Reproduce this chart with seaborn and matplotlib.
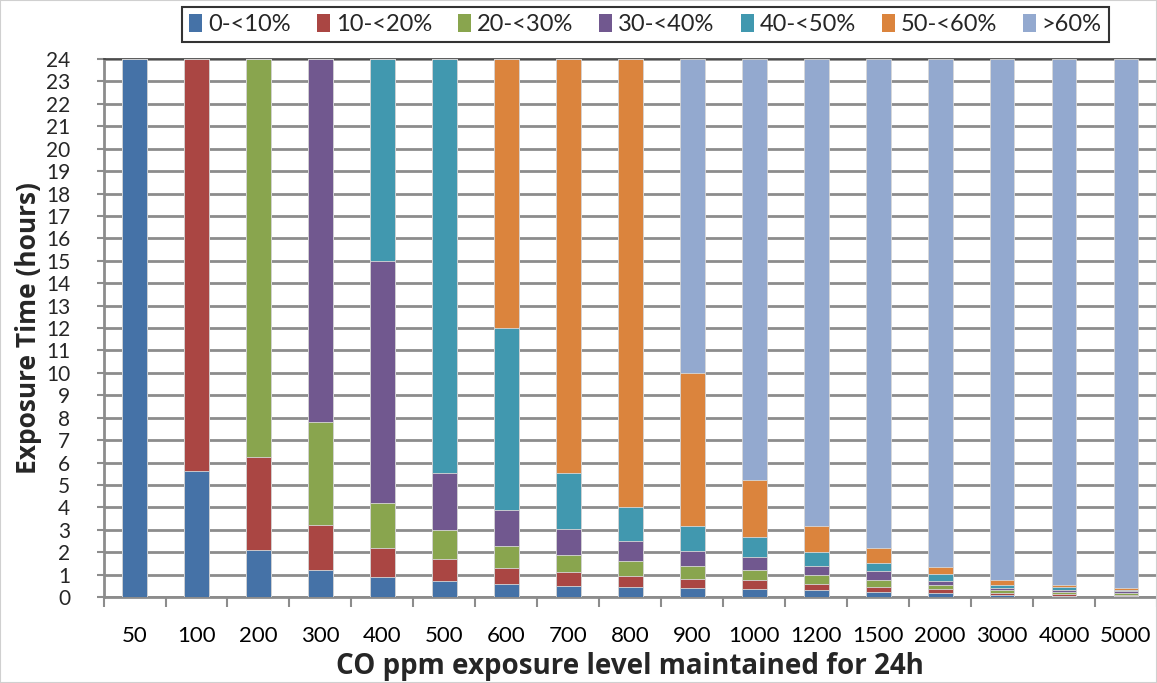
import numpy as np
import pandas as pd
import matplotlib
matplotlib.use("Agg")
import matplotlib.pyplot as plt
import seaborn as sns
from matplotlib.patches import Patch

# CO exposure levels (ppm, held for 24 h)
levels = ["50", "100", "200", "300", "400", "500", "600", "700", "800",
          "900", "1000", "1200", "1500", "2000", "3000", "4000", "5000"]

bands = ["0-<10%", "10-<20%", "20-<30%", "30-<40%", "40-<50%", "50-<60%", ">60%"]

# Hours spent in each COHb band at each exposure level
band_0_10 = [24.0, 5.6, 2.1, 1.2, 0.9, 0.73, 0.6, 0.5, 0.45, 0.4, 0.34, 0.3, 0.21, 0.16, 0.07, 0.06, 0.05]
band_10_20 = [0.0, 18.4, 4.15, 2.0, 1.3, 0.97, 0.7, 0.63, 0.5, 0.42, 0.4, 0.29, 0.25, 0.18, 0.11, 0.09, 0.06]
band_20_30 = [0.0, 0.0, 17.75, 4.6, 2.0, 1.28, 0.97, 0.73, 0.65, 0.56, 0.46, 0.39, 0.3, 0.18, 0.12, 0.09, 0.08]
band_30_40 = [0.0, 0.0, 0.0, 16.2, 10.8, 2.55, 1.6, 1.19, 0.88, 0.67, 0.6, 0.42, 0.39, 0.18, 0.12, 0.09, 0.07]
band_40_50 = [0.0, 0.0, 0.0, 0.0, 9.0, 18.47, 8.13, 2.48, 1.52, 1.13, 0.89, 0.62, 0.35, 0.31, 0.13, 0.10, 0.07]
band_50_60 = [0.0, 0.0, 0.0, 0.0, 0.0, 0.0, 12.0, 18.47, 20.0, 6.82, 2.53, 1.16, 0.7, 0.34, 0.22, 0.11, 0.09]
band_60_up = [0.0, 0.0, 0.0, 0.0, 0.0, 0.0, 0.0, 0.0, 0.0, 14.0, 18.78, 20.82, 21.8, 22.65, 23.23, 23.46, 23.58]

series = [band_0_10, band_10_20, band_20_30, band_30_40, band_40_50, band_50_60, band_60_up]
colors = ["#4572A7", "#AA4643", "#89A54E", "#71588F", "#4198AF", "#DB843D", "#93A9CF"]

sns.set_theme(style="white")
plt.rcParams["font.family"] = ["Lato", "DejaVu Sans"]

fig = plt.figure(figsize=(11.57, 6.83), dpi=100)
ax = fig.add_axes([0.0895, 0.1259, 0.9105, 0.7877])

# stacked bars: draw cumulative totals from the top band down
cum = np.cumsum(np.array(series), axis=0)
for i in range(len(series) - 1, -1, -1):
    df = pd.DataFrame({"level": levels, "hours": cum[i]})
    sns.barplot(data=df, x="level", y="hours", order=levels, color=colors[i],
                saturation=1, width=0.4, edgecolor="#d8d8d8", linewidth=0.6,
                ax=ax, zorder=3)

ax.set_ylim(0, 24)
ax.set_xlim(-0.5, len(levels) - 0.5)
ax.set_yticks(range(0, 25))
ax.set_yticklabels([str(v) for v in range(0, 25)], fontsize=15)
ax.yaxis.grid(True, color="#8c8c8c", linewidth=2.0, zorder=0)
ax.set_axisbelow(True)

# x ticks sit between categories, labels under bars
ax.set_xticks(np.arange(len(levels)))
ax.set_xticklabels(levels, fontsize=16)
ax.set_xticks(np.arange(-0.5, len(levels) - 0.4, 1.0), minor=True)
ax.tick_params(axis="x", which="major", length=0, pad=21, colors="black")
ax.tick_params(axis="x", which="minor", length=7, width=1.5, color="#8c8c8c", direction="out", bottom=True)
ax.tick_params(axis="y", which="major", length=5, width=1.5, color="#8c8c8c", direction="out", left=True, pad=19)

for side in ["left", "bottom"]:
    ax.spines[side].set_color("#8c8c8c")
    ax.spines[side].set_linewidth(2.0)
ax.spines["top"].set_visible(True)
ax.spines["top"].set_color("#404040")
ax.spines["top"].set_linewidth(1.2)
ax.spines["right"].set_visible(False)

title_font = dict(family=["Open Sans", "DejaVu Sans"], size=20, weight="bold")
ax.set_xlabel("CO ppm exposure level maintained for 24h", fontdict=title_font, labelpad=4)
ax.set_ylabel("Exposure Time (hours)", fontdict=dict(title_font, size=19), labelpad=3)

handles = [Patch(facecolor=c, edgecolor="none") for c in colors]
leg = fig.legend(handles, bands, loc="center", bbox_to_anchor=(0.558, 0.964), ncol=7,
                 fontsize=17, frameon=True, fancybox=False, handlelength=0.55,
                 handleheight=0.8, handletextpad=0.25, columnspacing=1.1,
                 borderpad=0.3)
leg.get_frame().set_edgecolor("black")
leg.get_frame().set_linewidth(1.5)

fig.patches.append(plt.Rectangle((0, 0), 1, 1, transform=fig.transFigure,
                                 fill=False, edgecolor="#d0d0d0", linewidth=1.5))

fig.savefig("out.png", dpi=100)
